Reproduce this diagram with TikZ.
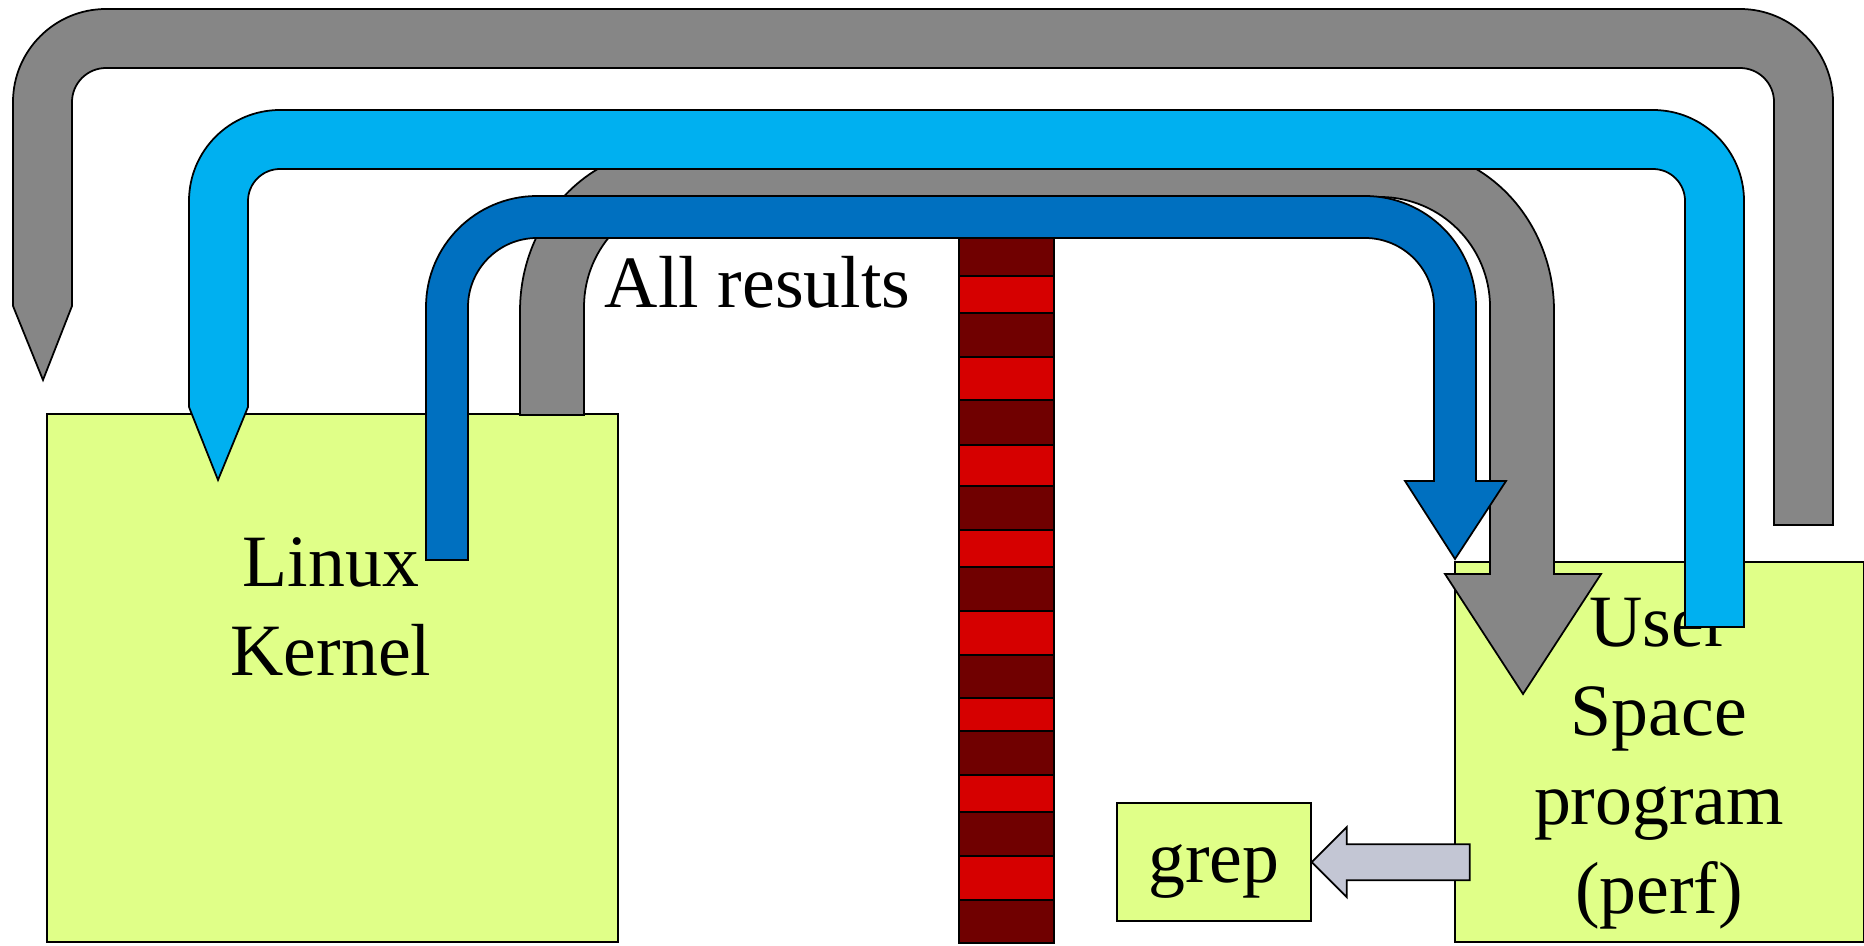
\documentclass[tikz,border=0pt]{standalone}
\usepackage{fontspec}
\setmainfont{Liberation Serif}
\usepackage{xcolor}
\usepackage{tikz}
\usetikzlibrary{positioning, calc}
\definecolor{limefill}{RGB}{224,255,136}
\definecolor{bandgray}{RGB}{134,134,134}
\definecolor{bandsky}{RGB}{0,176,240}
\definecolor{bandblue}{RGB}{0,112,192}
\definecolor{slotdark}{RGB}{112,0,0}
\definecolor{slotred}{RGB}{214,0,0}
\definecolor{pipegray}{RGB}{195,198,212}
\tikzset{unit/.style={
    rectangle,
    draw=black,
    fill=limefill,
    inner sep=0pt,
    anchor=south west
}}
\tikzset{caption/.style={
    font=\fontsize{21}{25.3}\selectfont,
    align=center,
    inner sep=0pt,
    anchor=base
}}
\tikzset{band/.style={
    draw=black,
    line join=miter
}}

\begin{document}
\begin{tikzpicture}[
    x=0.1mm, y=0.1mm, line width=0.5pt
]
    \useasboundingbox (0,0) rectangle (1864,945);
    % Boxes
    \node (kernel) [unit, minimum width=57.1mm, minimum height=52.8mm] at (46,2) {};
    \node (user) [unit, minimum width=40.9mm, minimum height=38mm] at (1454,2) {};
    \node (grep) [unit, minimum width=19.4mm, minimum height=11.8mm] at (1116,23) {};
    \node (kernel-text) [caption] at (331,270) {Linux\\Kernel};
    \node (user-text) [caption] at (1659,32) {User\\Space\\program\\(perf)};
    \node (grep-text) [caption] at ($(grep.center)+(0,-20)$) {grep};
    % Ring buffer
    \foreach \hi/\lo [count=\i] in {707/669, 669/632, 632/588, 588/545, 545/500,
        500/459, 459/415, 415/378, 378/334, 334/290, 290/247, 247/214, 214/170,
        170/133, 133/89, 89/45, 45/2} {
        \ifodd\i \def\slotcolor{slotdark}\else \def\slotcolor{slotred}\fi
        \draw [fill=\slotcolor] (959,\lo) rectangle (1054,\hi);
    }
    % perf -> grep
    \draw [band, fill=pipegray] (grep.east) -- ++(35,35) -- ++(0,-17) -- ++(123,0)
        -- ++(0,-36) -- ++(-123,0) -- ++(0,-17) -- cycle;
    % Outer loop
    \draw [band, fill=bandgray] (13,639) -- (13,843) arc[start angle=180, end angle=90, radius=93]
        -- (1740,936) arc[start angle=90, end angle=0, radius=93] -- (1833,420) -- (1774,420)
        -- (1774,843) arc[start angle=0, end angle=90, radius=34]
        -- (106,877) arc[start angle=90, end angle=180, radius=34] -- (72,639) -- (43,565) -- cycle;
    % All results
    \draw [band, fill=bandgray] (520,530) -- (520,634)
        arc[start angle=180, end angle=90, x radius=150, y radius=162]
        -- (1404,796) arc[start angle=90, end angle=0, x radius=150, y radius=162]
        -- (1554,371) -- (1601,371) -- (1523,251) -- (1445,371) -- (1490,371)
        -- (1490,638) arc[start angle=0, end angle=90, radius=110]
        -- (694,748) arc[start angle=90, end angle=180, radius=110]
        -- (584,530) -- cycle;
    % Light blue loop
    \draw [band, fill=bandsky] (189,538) -- (189,744) arc[start angle=180, end angle=90, radius=91]
        -- (1653,835) arc[start angle=90, end angle=0, radius=91] -- (1744,318) -- (1685,318)
        -- (1685,744) arc[start angle=0, end angle=90, radius=32]
        -- (280,776) arc[start angle=90, end angle=180, radius=32] -- (248,538) -- (218,465) -- cycle;
    % Dark blue loop
    \draw [band, fill=bandblue] (426,385) -- (426,638) arc[start angle=180, end angle=90, radius=111]
        -- (1365,749) arc[start angle=90, end angle=0, radius=111]
        -- (1476,464) -- (1506,464) -- (1455,386) -- (1405,464) -- (1434,464)
        -- (1434,638) arc[start angle=0, end angle=90, radius=69]
        -- (537,707) arc[start angle=90, end angle=180, radius=69] -- (468,385) -- cycle;
    \node (results) [caption, anchor=base west] at (604,638) {All results};
\end{tikzpicture}
\end{document}
